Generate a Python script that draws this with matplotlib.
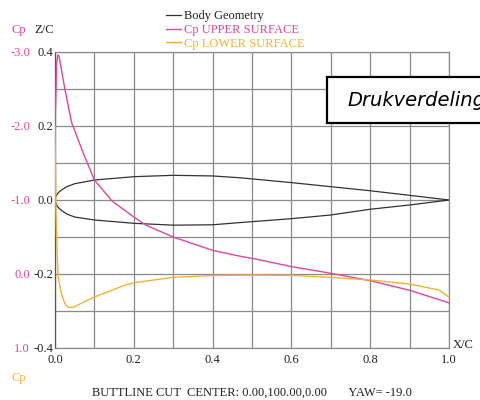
import numpy as np
import matplotlib
matplotlib.use("Agg")
import matplotlib.pyplot as plt
from matplotlib.patches import Rectangle

# ---------------- data ----------------
geo_x_upper = [0.0, 0.002, 0.008, 0.015, 0.03, 0.05, 0.1, 0.2, 0.3, 0.4, 0.47, 0.6, 0.7, 0.8, 0.9, 1.0]
geo_z_upper = [0.0, 0.010, 0.019, 0.026, 0.036, 0.044, 0.054, 0.063, 0.0667, 0.065, 0.060, 0.047, 0.036, 0.025, 0.0126, 0.0]
geo_x_lower = [0.0, 0.002, 0.008, 0.015, 0.03, 0.05, 0.1, 0.2, 0.3, 0.4, 0.47, 0.6, 0.7, 0.8, 0.9, 1.0]
geo_z_lower = [0.0, -0.010, -0.020, -0.027, -0.038, -0.046, -0.054, -0.063, -0.068, -0.067, -0.061, -0.0505, -0.0405, -0.025, -0.0135, 0.0]

cp_up_x = [0.0, 0.002, 0.004, 0.007, 0.010, 0.015, 0.025, 0.042, 0.072, 0.1, 0.127, 0.144,
           0.2, 0.231, 0.3, 0.4, 0.47, 0.512, 0.6, 0.7, 0.8, 0.9, 0.93, 1.0]
cp_up = [-2.0, -2.35, -2.85, -2.96, -2.95, -2.8, -2.5, -2.05, -1.63, -1.27, -1.10, -0.99,
         -0.77, -0.66, -0.50, -0.32, -0.24, -0.20, -0.10, -0.01, 0.09, 0.22, 0.27, 0.39]

cp_lo_x = [0.0, 0.001, 0.0025, 0.004, 0.008, 0.017, 0.025, 0.034, 0.046, 0.1, 0.178, 0.2,
           0.3, 0.4, 0.5, 0.6, 0.7, 0.8, 0.9, 0.975, 1.0]
cp_lo = [-2.0, -1.5, -0.86, -0.5, 0.04, 0.28, 0.40, 0.45, 0.45, 0.31, 0.15, 0.118,
         0.045, 0.02, 0.015, 0.018, 0.045, 0.081, 0.135, 0.216, 0.315]

x_ticks = [0.0, 0.1, 0.2, 0.3, 0.4, 0.5, 0.6, 0.7, 0.8, 0.9, 1.0]
x_tick_labels = ['0.0', '', '0.2', '', '0.4', '', '0.6', '', '0.8', '', '1.0']
z_ticks = [-0.4, -0.3, -0.2, -0.1, 0.0, 0.1, 0.2, 0.3, 0.4]
z_tick_labels = ['-0.4', '', '-0.2', '', '0.0', '', '0.2', '', '0.4']
cp_ticks = [1.0, 0.0, -1.0, -2.0, -3.0]
cp_tick_labels = ['1.0', '0.0', '-1.0', '-2.0', '-3.0']

MAG = '#e0479e'
ORA = '#f2b233'
SERIF = 'Liberation Serif'

plt.rcParams['font.family'] = SERIF

fig = plt.figure(figsize=(4.8, 4.0), dpi=100)
W, H = 480.0, 400.0
ax = fig.add_axes([55 / W, 1 - 348 / H, 394 / W, 296 / H])
ax.set_xlim(0, 1.0)
ax.set_ylim(-0.4, 0.4)
ax.set_xticks(x_ticks)
ax.set_xticklabels(x_tick_labels)
ax.set_yticks(z_ticks)
ax.set_yticklabels(z_tick_labels)
ax.tick_params(length=0, labelsize=9, colors='#222222')
ax.tick_params(axis='x', pad=4.5)
ax.tick_params(axis='y', pad=1.5)
ax.grid(True, color='#8a8a8a', lw=0.9)
for s in ax.spines.values():
    s.set_color('#8a8a8a')
    s.set_linewidth(0.9)
ax.spines['left'].set_color('#555555')

lg, = ax.plot(geo_x_upper, geo_z_upper, color='#333333', lw=0.9, label='Body Geometry')
ax.plot(geo_x_lower, geo_z_lower, color='#333333', lw=0.9)

ax2 = ax.twinx()
ax2.set_ylim(1.0, -3.0)
ax2.set_xlim(0, 1.0)
ax2.yaxis.set_ticks_position('left')
ax2.set_yticks(cp_ticks)
ax2.set_yticklabels(cp_tick_labels)
ax2.tick_params(axis='y', length=0, pad=18, labelsize=9, colors=MAG)
for s in ax2.spines.values():
    s.set_visible(False)
lu, = ax2.plot(cp_up_x, cp_up, color=MAG, lw=1.0, label='Cp UPPER SURFACE')
ll, = ax2.plot(cp_lo_x, cp_lo, color=ORA, lw=1.0, label='Cp LOWER SURFACE')

fig.legend(handles=[lg, lu, ll], loc='upper left', bbox_to_anchor=(166 / W, 1 - 10 / H),
           frameon=False, handlelength=1.2, handletextpad=0.2, labelspacing=0.15,
           borderpad=0, borderaxespad=0, labelcolor=['#222222', MAG, ORA],
           prop={'family': SERIF, 'size': 9})

fig.text(11 / W, 1 - 30 / H, 'Cp', color=MAG, fontsize=9, va='center', ha='left')
fig.text(34 / W, 1 - 30 / H, 'Z/C', color='#222222', fontsize=9, va='center', ha='left')
fig.text(453 / W, 1 - 345 / H, 'X/C', color='#222222', fontsize=9, va='center', ha='left')
fig.text(11 / W, 1 - 378 / H, 'Cp', color=ORA, fontsize=9, va='center', ha='left')
fig.text(252 / W, 1 - 393 / H, 'BUTTLINE CUT  CENTER: 0.00,100.00,0.00       YAW= -19.0',
         color='#222222', fontsize=9, va='center', ha='center')

rect = Rectangle((327 / W, 1 - 123 / H), 200 / W, 46 / H, transform=fig.transFigure,
                 facecolor='white', edgecolor='black', lw=1.6, zorder=5)
fig.add_artist(rect)
fig.text(347 / W, 1 - 100 / H, 'Drukverdeling', family='DejaVu Sans', style='oblique',
         fontsize=14, color='black', va='center', ha='left', zorder=6)

fig.savefig('out.png', dpi=100)
